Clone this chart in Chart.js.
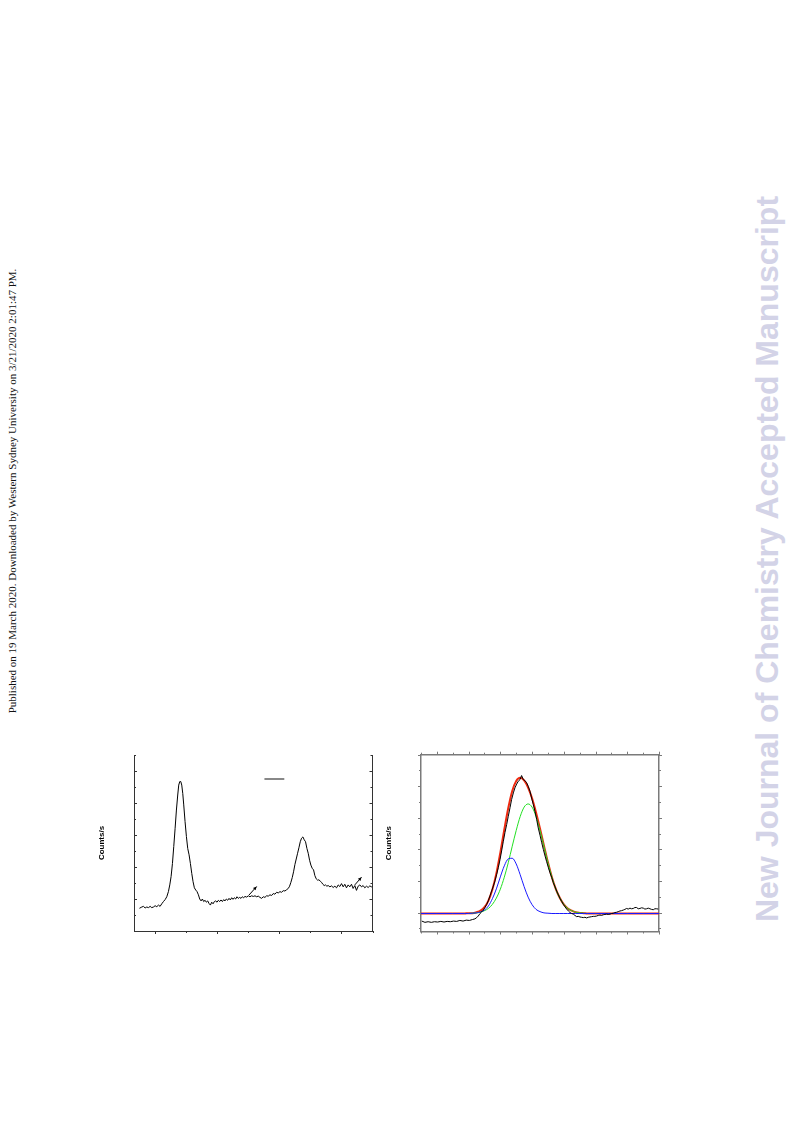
<!DOCTYPE html>
<html>
<head>
<meta charset="utf-8">
<script src="https://cdn.jsdelivr.net/npm/chart.js@4.4.1/dist/chart.umd.min.js"></script>
<style>
    html, body { margin: 0; padding: 0; background: #fff; }
    body { width: 793px; height: 1121px; position: relative; overflow: hidden; }
    .stamp {
        position: absolute; left: 12px; top: 491px;
        transform: translate(-50%, -50%) rotate(-90deg);
        font: 11px 'Liberation Serif', 'Times New Roman', serif;
        color: #111; white-space: nowrap;
    }
    .watermark {
        position: absolute; left: 767px; top: 559px;
        transform: translate(-50%, -50%) rotate(-90deg);
        font: bold 32px 'Liberation Sans', Arial, sans-serif;
        color: #d3d3e7; white-space: nowrap;
    }
    canvas { position: absolute; }
    #chart-survey { left: 90px; top: 740px; }
    #chart-fit { left: 375px; top: 740px; }
</style>
</head>
<body>
<div class="stamp">Published on 19 March 2020. Downloaded by Western Sydney University on 3/21/2020 2:01:47 PM.</div>
<div class="watermark">New Journal of Chemistry Accepted Manuscript</div>
<canvas id="chart-survey" width="295" height="200"></canvas>
<canvas id="chart-fit" width="295" height="200"></canvas>

<script>
// ---- 左: 2p スペクトル (サテライト付き) ----
const surveyEnergy = [
    927.48, 927.86, 928.12, 928.39, 928.66, 928.93, 929.20, 929.46, 929.73, 930.00,
    930.27, 930.54, 930.80, 931.07, 931.34, 931.61, 931.88, 932.14, 932.36, 932.57,
    932.79, 933.00, 933.22, 933.43, 933.64, 933.80, 933.97, 934.13, 934.29, 934.45,
    934.61, 934.82, 935.04, 935.25, 935.47, 935.68, 935.90, 936.11, 936.32, 936.54,
    936.75, 936.97, 937.18, 937.40, 937.61, 937.82, 938.04, 938.25, 938.47, 938.68,
    938.90, 939.11, 939.33, 939.54, 939.75, 939.97, 940.18, 940.40, 940.61, 940.83,
    941.04, 941.25, 941.47, 941.68, 941.90, 942.11, 942.33, 942.54, 942.75, 942.97,
    943.18, 943.40, 943.61, 943.83, 944.04, 944.26, 944.47, 944.74, 945.01, 945.27,
    945.54, 945.81, 946.08, 946.35, 946.61, 946.88, 947.15, 947.42, 947.68, 947.95,
    948.22, 948.49, 948.76, 949.02, 949.29, 949.56, 949.83, 950.10, 950.36, 950.63,
    950.90, 951.17, 951.44, 951.65, 951.86, 952.08, 952.29, 952.51, 952.72, 952.94,
    953.15, 953.37, 953.58, 953.79, 954.01, 954.22, 954.44, 954.65, 954.87, 955.08,
    955.29, 955.51, 955.72, 955.94, 956.15, 956.37, 956.58, 956.80, 957.01, 957.22,
    957.44, 957.65, 957.87, 958.14, 958.40, 958.67, 958.94, 959.21, 959.48, 959.74,
    960.01, 960.28, 960.54, 960.81, 961.08, 961.35, 961.62, 961.88, 962.15, 962.42,
    962.69, 962.96, 963.23, 963.49, 963.76, 964.03, 964.30, 964.57, 964.83, 964.98
];
const surveyCounts = [
    0.71, 0.75, 0.77, 0.72, 0.75, 0.73, 0.77, 0.73, 0.75, 0.79,
    0.76, 0.81, 0.77, 0.85, 0.92, 0.98, 1.07, 1.23, 1.44, 1.70,
    2.11, 2.64, 3.21, 3.78, 4.25, 4.56, 4.67, 4.67, 4.56, 4.30,
    3.94, 3.42, 2.95, 2.58, 2.38, 2.11, 1.80, 1.54, 1.35, 1.28,
    1.23, 1.13, 1.00, 0.94, 1.00, 0.92, 0.96, 0.90, 0.94, 0.86,
    0.81, 0.90, 0.85, 0.92, 0.94, 0.90, 0.96, 0.92, 0.97, 0.92,
    0.98, 0.94, 1.00, 0.96, 1.02, 0.97, 1.04, 0.99, 1.04, 1.00,
    1.07, 1.02, 1.05, 1.02, 1.07, 1.04, 1.08, 1.06, 1.10, 1.07,
    1.10, 1.08, 1.10, 1.07, 1.09, 1.05, 1.02, 1.07, 1.05, 1.10,
    1.09, 1.13, 1.11, 1.17, 1.15, 1.21, 1.19, 1.23, 1.21, 1.26,
    1.25, 1.29, 1.33, 1.40, 1.52, 1.67, 1.85, 2.08, 2.25, 2.43,
    2.60, 2.79, 2.90, 2.94, 2.85, 2.79, 2.58, 2.43, 2.21, 2.06,
    1.96, 1.91, 1.73, 1.63, 1.59, 1.60, 1.56, 1.52, 1.46, 1.42,
    1.44, 1.40, 1.42, 1.38, 1.41, 1.36, 1.40, 1.35, 1.44, 1.39,
    1.48, 1.38, 1.46, 1.35, 1.44, 1.38, 1.46, 1.33, 1.42, 1.27,
    1.40, 1.44, 1.38, 1.42, 1.35, 1.40, 1.36, 1.41, 1.38, 1.39
];
// サテライト矢印 [x0, y0, x1, y1]
const satelliteArrows = [[945.1, 1.12, 946.35, 1.39], [962.15, 1.44, 963.23, 1.68]];
// 凡例の線 (テキストなし) [x0, x1, y]
const legendSample = [947.6, 950.8, 4.74];

const surveyXMajor = [930, 940, 950, 960];
const surveyXMinor = [935, 945, 955, 965];
const surveyYMajor = [0, 1, 2, 3, 4, 5];
const surveyYMinor = [0.5, 1.5, 2.5, 3.5, 4.5, 5.5];

// ---- 右: ピーク分離 ----
const fitMeasuredEnergy = [
    925.05, 925.25, 925.45, 925.65, 925.85, 926.05, 926.25, 926.45, 926.65, 926.85,
    927.05, 927.25, 927.45, 927.65, 927.85, 928.05, 928.25,
    928.40, 928.51, 928.61, 928.72, 928.82, 928.93, 929.03, 929.14, 929.24, 929.35,
    929.45, 929.56, 929.66, 929.77, 929.87, 929.98, 930.08, 930.19, 930.29, 930.40,
    930.50, 930.61, 930.71, 930.82, 930.92, 931.03, 931.13, 931.24, 931.34, 931.45,
    931.55, 931.66, 931.76, 931.87, 931.97, 932.08, 932.18, 932.29, 932.39, 932.50,
    932.61, 932.71, 932.82, 932.92, 933.03, 933.13, 933.24, 933.34, 933.45, 933.55,
    933.66, 933.76, 933.87, 933.97, 934.08, 934.18, 934.29, 934.39,
    934.50, 934.60, 934.70, 934.81, 934.91, 935.02, 935.12, 935.23, 935.33, 935.44,
    935.54, 935.65, 935.75, 935.86, 935.96, 936.07, 936.17, 936.28, 936.38, 936.49,
    936.59, 936.70, 936.80, 936.91, 937.01, 937.12, 937.22, 937.33, 937.43, 937.54,
    937.64, 937.75, 937.85, 937.96, 938.06, 938.17, 938.27, 938.38, 938.48, 938.59,
    938.69, 938.80, 938.90, 939.01, 939.11, 939.22, 939.32, 939.43, 939.53, 939.64,
    939.74, 939.85, 939.95
];
const fitMeasuredCounts = [
    -0.27, -0.31, -0.29, -0.31, -0.29, -0.30, -0.28, -0.30, -0.28, -0.29,
    -0.27, -0.28, -0.25, -0.27, -0.24, -0.25, -0.22,
    -0.20, -0.16, -0.11, -0.03, 0.02, 0.08, 0.16, 0.26, 0.37, 0.53,
    0.68, 0.84, 1.00, 1.21, 1.42, 1.68, 1.95, 2.26, 2.53, 2.79,
    3.05, 3.32, 3.58, 3.79, 3.95, 4.07, 4.16, 4.21, 4.34, 4.21,
    4.18, 4.11, 4.00, 3.84, 3.63, 3.42, 3.21, 2.95, 2.68, 2.45,
    2.21, 2.00, 1.79, 1.61, 1.42, 1.26, 1.11, 0.95, 0.81, 0.68,
    0.56, 0.45, 0.35, 0.26, 0.18, 0.11, 0.05, 0.00,
    -0.03, -0.05, -0.09, -0.13, -0.12, -0.14, -0.15, -0.16, -0.15, -0.17,
    -0.15, -0.14, -0.13, -0.12, -0.12, -0.11, -0.09, -0.08, -0.09, -0.07,
    -0.06, -0.05, -0.06, -0.05, -0.03, -0.02, 0.00, 0.01, 0.03, 0.05,
    0.06, 0.08, 0.10, 0.13, 0.11, 0.14, 0.12, 0.13, 0.16, 0.16,
    0.12, 0.13, 0.15, 0.14, 0.11, 0.12, 0.14, 0.12, 0.10, 0.09,
    0.12, 0.12, 0.11
];

const fitEnergy = [
    925, 926, 927,
    927.75, 928.00, 928.25, 928.50, 928.75, 929.00, 929.25, 929.50, 929.75, 930.00,
    930.25, 930.50, 930.75, 931.00, 931.25, 931.50, 931.75, 932.00, 932.25, 932.50,
    932.75, 933.00, 933.25, 933.50, 933.75, 934.00, 934.25, 934.50, 934.75, 935.00,
    935.25, 935.50,
    936, 937, 938, 939, 940
];
const fitLowComponent = [
    -0.03, -0.03, -0.03,
    -0.03, -0.03, -0.02, -0.01, 0.02, 0.08, 0.21, 0.44, 0.75, 1.13,
    1.48, 1.70, 1.72, 1.54, 1.20, 0.82, 0.49, 0.25, 0.10, 0.03,
    -0.01, -0.02, -0.03, -0.03, -0.03, -0.03, -0.03, -0.03, -0.03, -0.03,
    -0.03, -0.03,
    -0.03, -0.03, -0.03, -0.03, -0.03
];
const fitHighComponent = [
    -0.03, -0.03, -0.03,
    -0.03, -0.03, -0.02, -0.01, 0.01, 0.06, 0.13, 0.26, 0.46, 0.74,
    1.12, 1.58, 2.10, 2.60, 3.04, 3.34, 3.44, 3.34, 3.04, 2.60,
    2.10, 1.58, 1.12, 0.74, 0.46, 0.26, 0.13, 0.06, 0.01, -0.01,
    -0.02, -0.03,
    -0.03, -0.03, -0.03, -0.03, -0.03
];
const fitEnvelope = [
    -0.03, -0.03, -0.03,
    -0.03, -0.02, -0.02, 0.01, 0.06, 0.17, 0.38, 0.73, 1.24, 1.90,
    2.63, 3.31, 3.85, 4.17, 4.27, 4.19, 3.96, 3.62, 3.17, 2.66,
    2.12, 1.59, 1.12, 0.74, 0.46, 0.26, 0.13, 0.06, 0.01, -0.01,
    -0.02, -0.03,
    -0.03, -0.03, -0.03, -0.03, -0.03
];

const fitXMajor = [926, 928, 930, 932, 934, 936, 938, 940];
const fitXMinor = [925, 927, 929, 931, 933, 935, 937, 939];
const fitYMajor = [0, 1, 2, 3, 4, 5];
const fitYMinor = [-0.5, 0.5, 1.5, 2.5, 3.5, 4.5];

// ---- 共通ユーティリティ ----
function toPoints(xs, ys) {
    return xs.map((x, i) => ({ x, y: ys[i] }));
}

function setTicks(major, minor) {
    return scale => {
        const all = major.map(v => ({ value: v, major: true }))
            .concat(minor.map(v => ({ value: v, major: false })));
        all.sort((a, b) => a.value - b.value);
        scale.ticks = all;
    };
}

// 目盛りを内向き/外向きで描く (dir: 1 = 外, -1 = 内)
const tickMarks = {
    id: 'tickMarks',
    afterDraw(chart, args, opts) {
        const ctx = chart.ctx;
        ctx.save();
        ctx.strokeStyle = opts.color;
        ctx.lineWidth = opts.width;
        Object.values(chart.scales).forEach(scale => {
            const dir = opts.dir[scale.id];
            if (!dir) return;
            scale.ticks.forEach(t => {
                const len = t.major ? opts.majorLen : opts.minorLen;
                const p = Math.round(scale.getPixelForValue(t.value)) + 0.5;
                ctx.beginPath();
                if (scale.isHorizontal()) {
                    const y0 = scale.position === 'top' ? scale.bottom : scale.top;
                    const sign = (scale.position === 'top' ? -1 : 1) * dir;
                    ctx.moveTo(p, y0);
                    ctx.lineTo(p, y0 + sign * len);
                } else {
                    const x0 = scale.position === 'left' ? scale.right : scale.left;
                    const sign = (scale.position === 'left' ? -1 : 1) * dir;
                    ctx.moveTo(x0, p);
                    ctx.lineTo(x0 + sign * len, p);
                }
                ctx.stroke();
            });
        });
        ctx.restore();
    }
};

// 矢印と凡例の線 (データ座標)
const annotations = {
    id: 'annotations',
    afterDatasetsDraw(chart, args, opts) {
        if (!opts.arrows) return;
        const { ctx, scales: { x, y } } = chart;
        ctx.save();
        ctx.strokeStyle = '#000';
        ctx.fillStyle = '#000';
        ctx.lineWidth = 1;
        opts.arrows.forEach(a => {
            const x0 = x.getPixelForValue(a[0]), y0 = y.getPixelForValue(a[1]);
            const x1 = x.getPixelForValue(a[2]), y1 = y.getPixelForValue(a[3]);
            const ang = Math.atan2(y1 - y0, x1 - x0);
            ctx.beginPath();
            ctx.moveTo(x0, y0);
            ctx.lineTo(x1, y1);
            ctx.stroke();
            ctx.beginPath();
            ctx.moveTo(x1, y1);
            ctx.lineTo(x1 - 4 * Math.cos(ang - 0.45), y1 - 4 * Math.sin(ang - 0.45));
            ctx.lineTo(x1 - 4 * Math.cos(ang + 0.45), y1 - 4 * Math.sin(ang + 0.45));
            ctx.closePath();
            ctx.fill();
        });
        const l = opts.legend;
        ctx.strokeStyle = '#888';
        ctx.lineWidth = 2;
        ctx.beginPath();
        ctx.moveTo(x.getPixelForValue(l[0]), Math.round(y.getPixelForValue(l[2])));
        ctx.lineTo(x.getPixelForValue(l[1]), Math.round(y.getPixelForValue(l[2])));
        ctx.stroke();
        ctx.restore();
    }
};

const TITLE_FONT = { family: "'Liberation Sans', Arial, sans-serif", size: 8, weight: 'bold' };

function hiddenAxis(pos, min, max, major, minor, color, width, showBorder = true) {
    return {
        type: 'linear', position: pos, min, max,
        grid: { display: false, drawTicks: false },
        ticks: { display: false },
        border: { display: showBorder, color, width },
        afterBuildTicks: setTicks(major, minor)
    };
}

function renderSurvey() {
    const ctx = document.getElementById('chart-survey').getContext('2d');
    const axisColor = '#333';
    const yAxis = hiddenAxis('left', 0, 5.5, surveyYMajor, surveyYMinor, axisColor, 1);
    yAxis.title = { display: true, text: 'Counts/s', color: '#000', font: TITLE_FONT, padding: { top: 7.2, bottom: 27.2 } };
    new Chart(ctx, {
        type: 'line',
        data: {
            datasets: [{
                data: toPoints(surveyEnergy, surveyCounts),
                borderColor: '#000', borderWidth: 1, pointRadius: 0, tension: 0
            }]
        },
        options: {
            responsive: false, animation: false,
            layout: { padding: { left: 0, right: 12.5, top: 15, bottom: 9 } },
            plugins: {
                legend: { display: false }, tooltip: { enabled: false },
                tickMarks: { color: axisColor, width: 1, majorLen: 3, minorLen: 2, dir: { x: 1, y: -1, y2: -1 } },
                annotations: { arrows: satelliteArrows, legend: legendSample }
            },
            scales: {
                x: hiddenAxis('bottom', 926.6, 965, surveyXMajor, surveyXMinor, axisColor, 1),
                y: yAxis,
                y2: hiddenAxis('right', 0, 5.5, surveyYMajor, surveyYMinor, axisColor, 1)
            }
        },
        plugins: [tickMarks, annotations]
    });
}

function renderFit() {
    const ctx = document.getElementById('chart-fit').getContext('2d');
    const axisColor = '#7a7a7a';
    const yAxis = hiddenAxis('left', -0.6, 5, fitYMajor, fitYMinor, axisColor, 1.5);
    yAxis.title = { display: true, text: 'Counts/s', color: '#000', font: TITLE_FONT, padding: { top: 9.2, bottom: 27.2 } };
    const fitLine = (data, color, width) => ({
        data: toPoints(fitEnergy, data),
        borderColor: color, borderWidth: width, pointRadius: 0,
        cubicInterpolationMode: 'monotone'
    });
    new Chart(ctx, {
        type: 'line',
        data: {
            datasets: [
                {
                    data: toPoints(fitMeasuredEnergy, fitMeasuredCounts),
                    borderColor: '#000', borderWidth: 1, pointRadius: 0, tension: 0
                },
                fitLine(fitLowComponent, '#1a1aff', 1),
                fitLine(fitHighComponent, '#22e022', 1),
                fitLine(fitEnvelope, '#ee2a10', 2)
            ]
        },
        options: {
            responsive: false, animation: false,
            layout: { padding: { left: 0, right: 11, top: 14.7, bottom: 8.5 } },
            plugins: {
                legend: { display: false }, tooltip: { enabled: false },
                tickMarks: { color: axisColor, width: 1, majorLen: 3, minorLen: 2, dir: { x: 1, x2: 1, y: 1, y2: 1 } },
                annotations: {}
            },
            scales: {
                x: hiddenAxis('bottom', 925, 940, fitXMajor, fitXMinor, axisColor, 1.5),
                x2: hiddenAxis('top', 925, 940, fitXMajor, fitXMinor, axisColor, 1.5),
                y: yAxis,
                y2: hiddenAxis('right', -0.6, 5, fitYMajor, fitYMinor, axisColor, 1.5)
            }
        },
        plugins: [tickMarks, annotations]
    });
}

renderSurvey();
renderFit();
</script>
</body>
</html>
